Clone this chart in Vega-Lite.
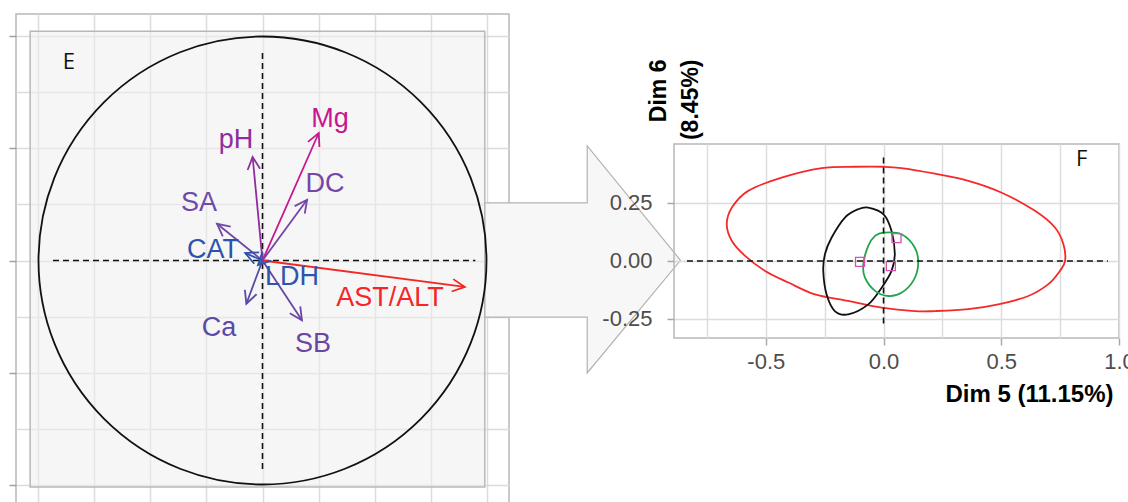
{
  "$schema": "https://vega.github.io/schema/vega-lite/v6.json",
  "padding": {"left": 7, "top": 13, "right": 0, "bottom": 0},
  "background": "white",
  "config": {"view": {"stroke": null}, "font": "Liberation Sans"},
  "bounds": "flush",
  "spacing": 165,
  "resolve": {"scale": {"color": "independent"}},
  "hconcat": [
    {
      "width": 493,
      "height": 493,
      "view": {"stroke": "#b8b8b8", "strokeWidth": 1.5},
      "layer": [
        {
          "data": {"values": [{}]},
          "mark": {"type": "rect", "fill": "#eeeeee", "fillOpacity": 0.55, "stroke": "#b8b8b8", "strokeWidth": 1.5},
          "encoding": {
            "x": {"datum": -1.037, "type": "quantitative", "scale": {"domain": [-1.1, 1.1], "nice": false, "zero": false},
              "axis": {"values": [-1, -0.75, -0.5, -0.25, 0, 0.25, 0.5, 0.75, 1], "grid": true, "gridColor": "#dcdcdc", "gridWidth": 1.5, "ticks": false, "labels": false, "domain": false, "title": null}},
            "x2": {"datum": 0.992},
            "y": {"datum": -1.011, "type": "quantitative", "scale": {"domain": [-1.1, 1.1], "nice": false, "zero": false},
              "axis": {"values": [-1, -0.75, -0.5, -0.25, 0, 0.25, 0.5, 0.75, 1], "grid": true, "gridColor": "#dcdcdc", "gridWidth": 1.5, "ticks": true, "tickSize": 7, "tickColor": "#a0a0a0", "tickWidth": 1.5,
                "tickOpacity": {"condition": {"test": "abs(datum.value*2 - round(datum.value*2)) > 0.001", "value": 0}, "value": 1},
                "labels": false, "domain": false, "title": null}},
            "y2": {"datum": 1.023}
          }
        },
        {
          "data": {"values": [{}]},
          "mark": {"type": "point", "shape": "M -0.901 -0.498 L 0 -0.498 L 0 -1 L 0.822 0.007 L 0 1 L 0 0.507 L -0.901 0.507 Z", "filled": true, "fill": "#f7f7f7", "fillOpacity": 1, "stroke": "#b3b3b3", "strokeWidth": 1.2, "strokeOpacity": 1, "size": 51529, "opacity": 1},
          "encoding": {"x": {"datum": 1.449}, "y": {"datum": 0.0045}}
        },
        {
          "data": {"values": [{}]},
          "mark": {"type": "point", "shape": "circle", "filled": false, "size": 200704, "stroke": "#111111", "strokeWidth": 1.8, "opacity": 1},
          "encoding": {"x": {"datum": 0}, "y": {"datum": 0}}
        },
        {
          "data": {"values": [{}]},
          "mark": {"type": "rule", "stroke": "#111111", "strokeWidth": 1.6, "strokeDash": [6, 4]},
          "encoding": {"x": {"datum": 0}, "y": {"datum": -0.93}, "y2": {"datum": 0.94}}
        },
        {
          "data": {"values": [{}]},
          "mark": {"type": "rule", "stroke": "#111111", "strokeWidth": 1.6, "strokeDash": [6, 4]},
          "encoding": {"y": {"datum": 0}, "x": {"datum": -0.935}, "x2": {"datum": 0.95}}
        },
        {
          "data": {"name": "vars"},
          "mark": {"type": "rule", "strokeWidth": 1.8},
          "encoding": {
            "x": {"field": "x", "type": "quantitative"},
            "y": {"field": "y", "type": "quantitative"},
            "x2": {"datum": 0},
            "y2": {"datum": 0},
            "color": {"field": "var", "type": "nominal", "legend": null,
              "scale": {"domain": ["AST/ALT", "Mg", "pH", "DC", "SA", "CAT", "LDH", "Ca", "SB"],
                        "range": ["#f42626", "#c8168f", "#8e2e9e", "#7545a8", "#6f4aa8", "#2d52ab", "#2d55ad", "#5a4aa8", "#6a45a6"]}}
          }
        },
        {
          "data": {"name": "vars"},
          "transform": [{"calculate": "atan2(datum.x, datum.y) * 180 / PI", "as": "ang"}],
          "mark": {"type": "point", "shape": "M -0.5 1 L 0 0 L 0.5 1", "filled": false, "size": 625, "strokeWidth": 1.8, "opacity": 1},
          "encoding": {
            "x": {"field": "x", "type": "quantitative"},
            "y": {"field": "y", "type": "quantitative"},
            "angle": {"field": "ang", "type": "quantitative", "scale": null},
            "color": {"field": "var", "type": "nominal", "legend": null}
          }
        },
        {
          "data": {"name": "vars"},
          "mark": {"type": "text", "fontSize": 27, "align": "center", "baseline": "middle"},
          "encoding": {
            "x": {"field": "lx", "type": "quantitative"},
            "y": {"field": "ly", "type": "quantitative"},
            "text": {"field": "var"},
            "color": {"field": "var", "type": "nominal", "legend": null}
          }
        },
        {
          "data": {"values": [{}]},
          "mark": {"type": "text", "text": "E", "font": "Open Sans", "fontSize": 22, "color": "#111111", "align": "center", "baseline": "middle"},
          "encoding": {"x": {"datum": -0.864}, "y": {"datum": 0.887}}
        }
      ]
    },
    {
      "bounds": "flush",
      "spacing": 0,
      "vconcat": [
        {
          "width": 445,
          "height": 130,
          "data": {"values": [{}]},
          "mark": {"type": "text"},
          "encoding": {"text": {"value": ""}}
        },
        {
          "width": 445,
          "height": 194,
          "view": {"stroke": "#b8b8b8", "strokeWidth": 1.5},
          "layer": [
            {
              "data": {"values": [
                {"grp": "g1", "i": 1, "x": 0.0, "y": 0.406},
                {"grp": "g1", "i": 2, "x": 0.076, "y": 0.4},
                {"grp": "g1", "i": 3, "x": 0.218, "y": 0.376},
                {"grp": "g1", "i": 4, "x": 0.36, "y": 0.345},
                {"grp": "g1", "i": 5, "x": 0.502, "y": 0.294},
                {"grp": "g1", "i": 6, "x": 0.643, "y": 0.216},
                {"grp": "g1", "i": 7, "x": 0.728, "y": 0.144},
                {"grp": "g1", "i": 8, "x": 0.764, "y": 0.072},
                {"grp": "g1", "i": 9, "x": 0.771, "y": 0.0},
                {"grp": "g1", "i": 10, "x": 0.749, "y": -0.043},
                {"grp": "g1", "i": 11, "x": 0.7, "y": -0.1},
                {"grp": "g1", "i": 12, "x": 0.615, "y": -0.151},
                {"grp": "g1", "i": 13, "x": 0.487, "y": -0.187},
                {"grp": "g1", "i": 14, "x": 0.36, "y": -0.208},
                {"grp": "g1", "i": 15, "x": 0.218, "y": -0.216},
                {"grp": "g1", "i": 16, "x": 0.133, "y": -0.216},
                {"grp": "g1", "i": 17, "x": -0.008, "y": -0.201},
                {"grp": "g1", "i": 18, "x": -0.15, "y": -0.172},
                {"grp": "g1", "i": 19, "x": -0.291, "y": -0.144},
                {"grp": "g1", "i": 20, "x": -0.404, "y": -0.093},
                {"grp": "g1", "i": 21, "x": -0.503, "y": -0.043},
                {"grp": "g1", "i": 22, "x": -0.588, "y": 0.022},
                {"grp": "g1", "i": 23, "x": -0.644, "y": 0.086},
                {"grp": "g1", "i": 24, "x": -0.666, "y": 0.158},
                {"grp": "g1", "i": 25, "x": -0.644, "y": 0.23},
                {"grp": "g1", "i": 26, "x": -0.575, "y": 0.302},
                {"grp": "g1", "i": 27, "x": -0.433, "y": 0.359},
                {"grp": "g1", "i": 28, "x": -0.263, "y": 0.4},
                {"grp": "g1", "i": 29, "x": -0.12, "y": 0.406},
                {"grp": "g2", "i": 1, "x": -0.065, "y": 0.23},
                {"grp": "g2", "i": 2, "x": 0.0, "y": 0.201},
                {"grp": "g2", "i": 3, "x": 0.034, "y": 0.129},
                {"grp": "g2", "i": 4, "x": 0.048, "y": 0.029},
                {"grp": "g2", "i": 5, "x": 0.034, "y": -0.043},
                {"grp": "g2", "i": 6, "x": -0.008, "y": -0.115},
                {"grp": "g2", "i": 7, "x": -0.065, "y": -0.187},
                {"grp": "g2", "i": 8, "x": -0.15, "y": -0.23},
                {"grp": "g2", "i": 9, "x": -0.207, "y": -0.216},
                {"grp": "g2", "i": 10, "x": -0.242, "y": -0.144},
                {"grp": "g2", "i": 11, "x": -0.256, "y": -0.043},
                {"grp": "g2", "i": 12, "x": -0.249, "y": 0.029},
                {"grp": "g2", "i": 13, "x": -0.221, "y": 0.1},
                {"grp": "g2", "i": 14, "x": -0.164, "y": 0.187},
                {"grp": "g2", "i": 15, "x": -0.108, "y": 0.223},
                {"grp": "g3", "i": 1, "x": 0.0, "y": 0.122},
                {"grp": "g3", "i": 2, "x": 0.076, "y": 0.115},
                {"grp": "g3", "i": 3, "x": 0.133, "y": 0.057},
                {"grp": "g3", "i": 4, "x": 0.147, "y": -0.014},
                {"grp": "g3", "i": 5, "x": 0.126, "y": -0.086},
                {"grp": "g3", "i": 6, "x": 0.076, "y": -0.137},
                {"grp": "g3", "i": 7, "x": 0.02, "y": -0.151},
                {"grp": "g3", "i": 8, "x": -0.036, "y": -0.129},
                {"grp": "g3", "i": 9, "x": -0.079, "y": -0.072},
                {"grp": "g3", "i": 10, "x": -0.086, "y": -0.014},
                {"grp": "g3", "i": 11, "x": -0.065, "y": 0.065},
                {"grp": "g3", "i": 12, "x": -0.036, "y": 0.108}
              ]},
              "mark": {"type": "line", "interpolate": "cardinal-closed", "strokeWidth": 1.8},
              "encoding": {
                "x": {"field": "x", "type": "quantitative", "scale": {"domain": [-0.89, 1.0], "nice": false, "zero": false},
                  "axis": {"values": [-0.75, -0.5, -0.25, 0, 0.25, 0.5, 0.75, 1], "grid": true, "gridColor": "#dcdcdc", "gridWidth": 1.5, "domain": false,
                    "ticks": true, "tickSize": 7, "tickColor": "#a8a8a8", "tickWidth": 1.5,
                    "tickOpacity": {"condition": {"test": "abs(datum.value*2 - round(datum.value*2)) > 0.001", "value": 0}, "value": 1},
                    "labelExpr": "abs(datum.value*2 - round(datum.value*2)) < 0.001 ? replace(format(datum.value, '.1f'), '\u2212', '-') : ''",
                    "labelFontSize": 22, "labelColor": "#4d4d4d", "labelPadding": 6, "labelFlush": false, "labelOverlap": false, "labelBound": false,
                    "title": "Dim 5 (11.15%)", "titleFontSize": 24, "titleFontWeight": "bold", "titleColor": "#000000",
                    "titleAnchor": "end", "titleAlign": "right", "titleBaseline": "alphabetic", "titleX": 439, "titleY": 63}},
                "y": {"field": "y", "type": "quantitative", "scale": {"domain": [-0.332, 0.504], "nice": false, "zero": false},
                  "axis": {"values": [-0.25, -0.125, 0, 0.125, 0.25, 0.375], "grid": true, "gridColor": "#dcdcdc", "gridWidth": 1.5, "domain": false,
                    "ticks": true, "tickSize": 7, "tickColor": "#a8a8a8", "tickWidth": 1.5,
                    "tickOpacity": {"condition": {"test": "abs(datum.value*4 - round(datum.value*4)) > 0.001", "value": 0}, "value": 1},
                    "labelExpr": "abs(datum.value*4 - round(datum.value*4)) < 0.001 ? replace(format(datum.value, '.2f'), '\u2212', '-') : ''",
                    "labelFontSize": 22, "labelColor": "#4d4d4d", "labelPadding": 15, "labelFlush": false, "labelOverlap": false, "labelBound": false,
                    "title": ["Dim 6", "(8.45%)"], "titleFontSize": 23, "titleFontWeight": "bold", "titleColor": "#000000",
                    "titleAngle": 270, "titleAlign": "right", "titleBaseline": "alphabetic", "titleX": -9, "titleY": -85, "titleLineHeight": 32}},
                "color": {"field": "grp", "type": "nominal", "legend": null,
                  "scale": {"domain": ["g1", "g2", "g3"], "range": ["#f42a2a", "#111111", "#1fa64a"]}},
                "order": {"field": "i", "type": "quantitative"}
              }
            },
            {
              "data": {"values": [
                {"px": -0.1, "py": -0.004},
                {"px": 0.055, "py": 0.098},
                {"px": 0.031, "py": -0.022}
              ]},
              "mark": {"type": "point", "shape": "square", "filled": false, "size": 81, "stroke": "#d94fb0", "strokeWidth": 1.3, "opacity": 1},
              "encoding": {
                "x": {"field": "px", "type": "quantitative"},
                "y": {"field": "py", "type": "quantitative"}
              }
            },
            {
              "data": {"values": [{}]},
              "mark": {"type": "rule", "stroke": "#111111", "strokeWidth": 1.6, "strokeDash": [6, 4]},
              "encoding": {"x": {"datum": 0}, "y": {"datum": -0.27}, "y2": {"datum": 0.46}}
            },
            {
              "data": {"values": [{}]},
              "mark": {"type": "rule", "stroke": "#111111", "strokeWidth": 1.6, "strokeDash": [6, 4]},
              "encoding": {"y": {"datum": 0}, "x": {"datum": -0.835}, "x2": {"datum": 0.953}}
            },
            {
              "data": {"values": [{}]},
              "mark": {"type": "text", "text": "F", "font": "Open Sans", "fontSize": 22, "color": "#111111", "align": "center", "baseline": "middle"},
              "encoding": {"x": {"datum": 0.841}, "y": {"datum": 0.44}}
            }
          ]
        }
      ]
    }
  ],
  "datasets": {
    "vars": [
      {"var": "AST/ALT", "x": 0.903, "y": -0.118, "lx": 0.569, "ly": -0.167},
      {"var": "Mg", "x": 0.251, "y": 0.569, "lx": 0.301, "ly": 0.632},
      {"var": "pH", "x": -0.044, "y": 0.462, "lx": -0.118, "ly": 0.538},
      {"var": "DC", "x": 0.199, "y": 0.271, "lx": 0.279, "ly": 0.342},
      {"var": "SA", "x": -0.203, "y": 0.164, "lx": -0.283, "ly": 0.257},
      {"var": "CAT", "x": -0.077, "y": 0.033, "lx": -0.221, "ly": 0.047},
      {"var": "LDH", "x": -0.02, "y": -0.02, "lx": 0.132, "ly": -0.074},
      {"var": "Ca", "x": -0.072, "y": -0.193, "lx": -0.194, "ly": -0.301},
      {"var": "SB", "x": 0.176, "y": -0.267, "lx": 0.225, "ly": -0.373}
    ]
  }
}
